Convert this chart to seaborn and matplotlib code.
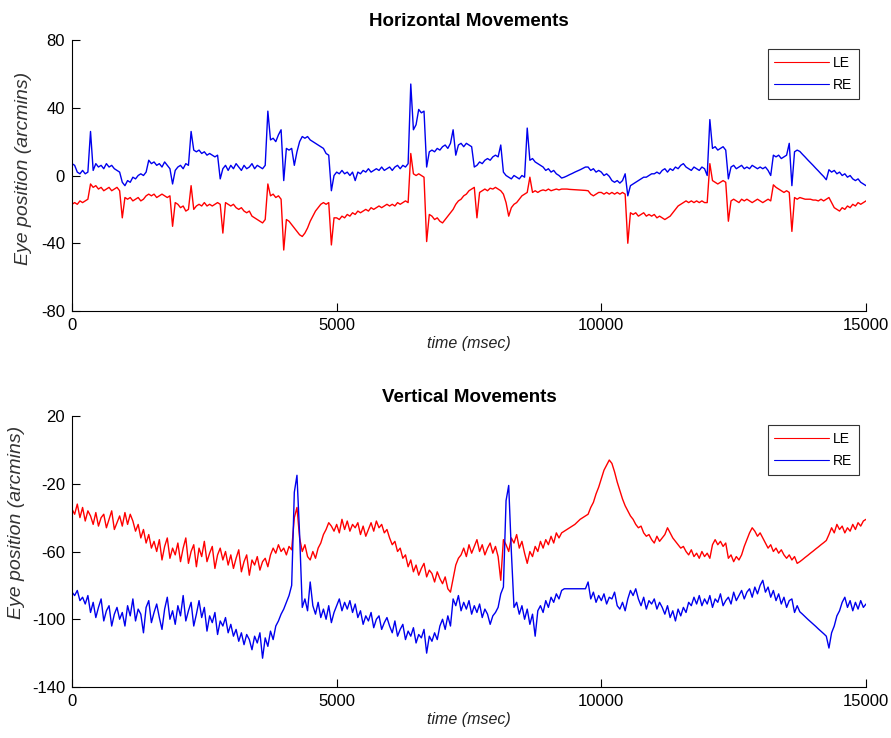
import numpy as np
import pandas as pd
import matplotlib
matplotlib.use("Agg")
import matplotlib.pyplot as plt
import seaborn as sns

# time axis (msec), one reading every 50 ms
time_ms = np.arange(0, 15001, 50)

# Horizontal movements (arcmins)
horiz_le = [
    -17, -16, -17, -15, -16, -15, -14, -5, -7, -6, -8, -7, -9, -8, -7, -9, -8, -7, -9, -25,
    -13, -14, -13, -15, -14, -13, -15, -14, -12, -11, -12, -11, -13, -12, -11, -12, -13, -12, -30, -16,
    -17, -19, -18, -21, -20, -6, -20, -18, -17, -18, -16, -18, -17, -18, -17, -16, -17, -34, -16, -17,
    -18, -17, -19, -20, -19, -21, -22, -21, -24, -25, -26, -27, -28, -26, -5, -12, -11, -13, -12, -14,
    -44, -26, -27, -29, -31, -33, -35, -36, -34, -31, -27, -24, -21, -19, -17, -16, -17, -16, -41, -25,
    -25, -26, -24, -25, -23, -24, -22, -23, -21, -22, -21, -20, -21, -19, -20, -19, -18, -19, -18, -17,
    -18, -17, -18, -16, -17, -16, -15, -16, 13, 1, 0, 1, 0, -1, -39, -23, -24, -26, -25, -27,
    -28, -26, -24, -22, -20, -17, -15, -14, -12, -11, -9, -8, -7, -25, -10, -9, -8, -9, -7.5, -8,
    -7, -8, -9, -11, -16, -24, -19, -17, -16, -14, -12, -11, -10, -1, -10, -9, -10, -9, -8.5, -9,
    -8, -9, -8.5, -8, -8.5, -8, -8, -8, -8.2, -8.3, -8.4, -8.5, -8.6, -8.7, -8.8, -9, -11, -12, -11, -10,
    -10, -11, -10, -11, -10, -11, -10, -11, -10, -11, -40, -22, -23, -22, -24, -23, -22, -24, -23, -24,
    -23, -25, -24, -25, -26, -25, -24, -22, -20, -18, -17, -16, -15, -16, -15, -16, -15, -16, -15, -16,
    -16, 7, -3, -4, -5, -4, -3, -4, -27, -15, -14, -15, -16, -14, -15, -14, -15, -16, -15, -14,
    -15, -16, -15, -14, -15, -5.5, -7, -8, -9, -10, -9, -10, -33, -13, -14, -13, -13.5, -14, -14, -14,
    -14.5, -14.5, -15, -14, -15, -14, -13, -16, -19, -20, -21, -19, -20, -18, -19, -17, -18, -16, -17, -16,
    -15,
]
horiz_re = [
    7, 6, 2, 1, 3, 1, 2, 26, 3, 7, 5, 6, 4, 7, 5, 6, 4, 3, 2, -4,
    -6, -3, -4, -1, -2, 0, 1, 0, 2, 9, 7, 8, 6, 7, 5, 8, 6, 4, -5, 3,
    5, 6, 4, 7, 6, 26, 15, 14, 15, 13, 14, 12, 13, 12, 11, 12, -2, 4, 6, 3,
    6, 4, 7, 5, 3, 6, 4, 5, 7, 4, 6, 5, 4, 6, 38, 21, 22, 20, 24, 27,
    -3, 16, 15, 16, 6, 14, 20, 23, 22, 23, 21, 20, 19, 18, 17, 16, 13, 12, -9, 0,
    2, 1, 3, 1, 2, 0, 2, -3, 2, 1, 3, 2, 4, 2, 3, 4, 3, 5, 3, 4,
    5, 3, 5, 6, 4, 6, 5, 7, 54, 27, 30, 39, 37, 38, 5, 14, 15, 14, 16, 15,
    17, 18, 16, 19, 27, 12, 18, 19, 17, 19, 18, 17, 5, 6, 8, 7, 9, 10, 9, 11,
    12, 11, 18, 2, 0, -1, -2, 0, -1, -2, 0, -1, 28, 9, 10, 8, 7, 6, 5, 3,
    4, 2, 3, 1, 0, -1.5, -1, -0.3, 0.5, 1.2, 2, 2.7, 3.4, 4.2, 5, 5, 3, 4, 2, 3,
    2, 0, 1, -0.5, -3, -4, -3, -4.5, -3, 1, -12, -6, -5, -4, -3, -2, -1, -1, 0, 1,
    1, 2, 1, 3, 4, 2, 4, 3, 5, 4, 6, 7, 5, 4, 3, 5, 4, 3, 5, 4,
    0, 33, 16, 17, 15, 16, 17, 15, -2, 5, 6, 4, 5, 6, 4, 5, 4, 6, 5, 4,
    5, 4, 5, 3, 0, 12, 11, 12, 10, 11, 12, 19, -6, 14, 15, 14.2, 12.5, 10.9, 9.2, 7.6,
    6, 4.3, 2.7, 1, -0.6, -2.5, 3.4, 2, 3, 1, 2, 0, 1, -1, 0, -2, -3, -2, -4, -5,
    -6,
]

# Vertical movements (arcmins)
vert_le = [
    -35, -38, -32, -40, -34, -42, -36, -39, -44, -37, -45, -40, -38, -46, -41, -36, -47, -43, -39, -45,
    -37, -44, -38, -42, -48, -44, -52, -47, -55, -50, -58, -54, -60, -53, -65, -57, -52, -64, -58, -62,
    -55, -66, -58, -52, -67, -60, -56, -69, -58, -63, -54, -66, -61, -57, -70, -62, -58, -65, -60, -68,
    -62, -70, -64, -59, -72, -66, -62, -74, -65, -68, -63, -71, -66, -64, -69, -62, -58, -61, -56, -60,
    -58, -62, -57, -59, -40, -34, -52, -60, -56, -63, -65, -60, -64, -58, -55, -50, -47, -43, -45, -48,
    -44, -49, -41, -47, -42, -48, -44, -46, -43, -50, -45, -51, -47, -43, -48, -42, -46, -44, -49, -47,
    -52, -56, -54, -60, -58, -64, -62, -69, -65, -72, -68, -74, -70, -67, -75, -71, -73, -78, -72, -76,
    -79, -75, -82, -84, -76, -68, -64, -62, -58, -63, -56, -61, -57, -53, -60, -56, -62, -58, -55, -61,
    -57, -63, -77, -53, -56, -60, -52, -55, -50, -58, -54, -61, -67, -60, -63, -57, -60, -54, -58, -53,
    -56, -51, -55, -49, -52, -49, -48, -47, -46, -45, -44, -42.5, -41, -40, -39, -38, -34, -31, -26, -22,
    -17, -12, -9, -6, -8, -13, -19, -24, -29, -33, -36, -39, -41, -44, -46, -45, -49, -51, -50, -53,
    -55, -51, -54, -52, -50, -46, -49, -52, -54, -56, -58, -57, -60, -62, -59, -63, -61, -64, -60, -63,
    -61, -64, -56, -53, -56, -54, -57, -55, -64, -62, -66, -63, -65, -62, -57, -53, -49, -46, -48, -51,
    -49, -52, -55, -58, -56, -60, -58, -61, -59, -62, -64, -62, -65, -63, -67, -66, -64.8, -63.5, -62.3, -61,
    -59.8, -58.5, -57.3, -56, -54.8, -53.5, -50, -46, -49, -44, -47, -45, -49, -46, -48, -44, -47, -43, -45, -42,
    -41,
]
vert_re = [
    -84, -86, -83, -89, -87, -91, -86, -96, -90, -99, -93, -88, -101, -95, -92, -104, -97, -93, -100, -96,
    -104, -92, -98, -88, -101, -94, -97, -108, -93, -89, -102, -96, -91, -99, -106, -94, -87, -100, -95, -103,
    -92, -98, -86, -101, -95, -90, -104, -97, -89, -99, -93, -107, -98, -102, -96, -109, -101, -104, -99, -108,
    -103, -110, -106, -113, -108, -115, -109, -112, -118, -110, -114, -108, -123, -111, -116, -107, -112, -104, -101, -97,
    -94, -90, -86, -80, -25, -15, -50, -93, -88, -95, -78, -92, -97, -90, -99, -94, -100, -92, -102, -96,
    -92, -88, -95, -90, -94, -89, -96, -91, -99, -95, -103, -98, -101, -96, -105, -100, -98, -106, -102, -99,
    -104, -108, -101, -110, -106, -103, -112, -107, -110, -105, -114, -109, -111, -106, -120, -110, -113, -108, -112, -104,
    -100, -106, -98, -104, -88, -92, -86, -95, -90, -94, -89, -97, -92, -96, -91, -99, -94, -97, -103, -98,
    -96, -93, -85, -81, -30, -21, -60, -93, -90, -97, -92, -100, -94, -103, -97, -110, -95, -92, -96, -89,
    -93, -87, -90, -85, -88, -83, -82, -82, -82, -82, -82, -82, -82, -82, -82, -78, -88, -84, -90, -86,
    -89, -85, -91, -87, -88, -84, -92, -94, -90, -95, -88, -83, -86, -82, -88, -92, -87, -94, -89, -91,
    -88, -94, -90, -93, -97, -92, -99, -95, -101, -94, -98, -93, -96, -90, -92, -87, -91, -86, -92, -88,
    -91, -86, -93, -88, -90, -85, -92, -89, -87, -91, -84, -89, -86, -83, -88, -84, -82, -87, -81, -85,
    -80, -77, -84, -81, -87, -83, -89, -85, -91, -87, -93, -89, -88, -96, -92, -95.6, -97, -98.5, -100, -101.4,
    -102.8, -104.2, -105.7, -107.1, -108.5, -110, -117, -108, -104, -98, -95, -90, -87, -93, -89, -95, -90, -94, -89, -93,
    -91,
]

panel_titles = ["Horizontal Movements", "Vertical Movements"]
eye_labels = ["LE", "RE"]
eye_colors = ["#ff0000", "#0000ee"]
x_ticks = [0, 5000, 10000, 15000]
y_ticks_h = [-80, -40, 0, 40, 80]
y_ticks_v = [-140, -100, -60, -20, 20]

for s in (horiz_le, horiz_re, vert_le, vert_re):
    assert len(s) == len(time_ms), len(s)

sns.set_style("white")
plt.rcParams['font.family'] = ['Liberation Sans', 'DejaVu Sans']
plt.rcParams['text.color'] = 'black'
plt.rcParams['axes.labelcolor'] = 'black'
plt.rcParams['xtick.color'] = 'black'
plt.rcParams['ytick.color'] = 'black'

W, H = 891, 738
fig = plt.figure(figsize=(W / 100, H / 100), dpi=100)
ax1 = fig.add_axes([72 / W, 1 - 311 / H, 794 / W, 271 / H])
ax2 = fig.add_axes([72 / W, 1 - 687 / H, 794 / W, 271 / H])

panels = [
    (ax1, horiz_le, horiz_re, panel_titles[0], y_ticks_h, (32, 168)),
    (ax2, vert_le, vert_re, panel_titles[1], y_ticks_v, (25, 522)),
]

for ax, le, re_, title, yt, (lx, ly) in panels:
    df = pd.DataFrame({"t": np.concatenate([time_ms, time_ms]),
                       "v": np.concatenate([le, re_]),
                       "eye": [eye_labels[0]] * len(time_ms) + [eye_labels[1]] * len(time_ms)})
    sns.lineplot(data=df, x="t", y="v", hue="eye", palette=eye_colors,
                 estimator=None, sort=False, linewidth=1.0, ax=ax)
    ax.set_xlim(0, 15000)
    ax.set_ylim(yt[0], yt[-1])
    ax.set_xticks(x_ticks)
    ax.set_yticks(yt)
    ax.set_xticklabels([str(v) for v in x_ticks])
    ax.set_yticklabels([str(v) for v in yt])
    for sp in ("top", "right"):
        ax.spines[sp].set_visible(False)
    for sp in ("left", "bottom"):
        ax.spines[sp].set_color("black")
        ax.spines[sp].set_linewidth(0.8)
    ax.tick_params(direction="in", length=6, width=0.8, colors="black",
                   labelsize=12, pad=5, top=False, right=False, bottom=True, left=True)
    ax.set_title(title, fontweight="bold", fontsize=13.5, pad=10, color="black")
    ax.set_xlabel("time (msec)", fontstyle="italic", fontsize=11.5, labelpad=2, color="#222222")
    ax.set_ylabel("Eye position (arcmins)", fontstyle="italic", fontsize=14, color="#333333")
    pos = ax.get_position()
    ax.yaxis.set_label_coords((lx - 72) / 794, ((H - ly) / H - pos.y0) / pos.height)
    leg = ax.legend(loc="upper right", bbox_to_anchor=(1 - 7 / 794, 1 - 9 / 271),
                    borderaxespad=0, frameon=True, fancybox=False, fontsize=10,
                    handlelength=3.9, handletextpad=0.3, labelspacing=0.55,
                    borderpad=0.5, title=None)
    leg.get_frame().set_edgecolor("black")
    leg.get_frame().set_linewidth(0.8)
    for h in leg.get_lines():
        h.set_linewidth(0.8)
    for txt in leg.get_texts():
        txt.set_color("black")

fig.savefig("out.png", dpi=100)
